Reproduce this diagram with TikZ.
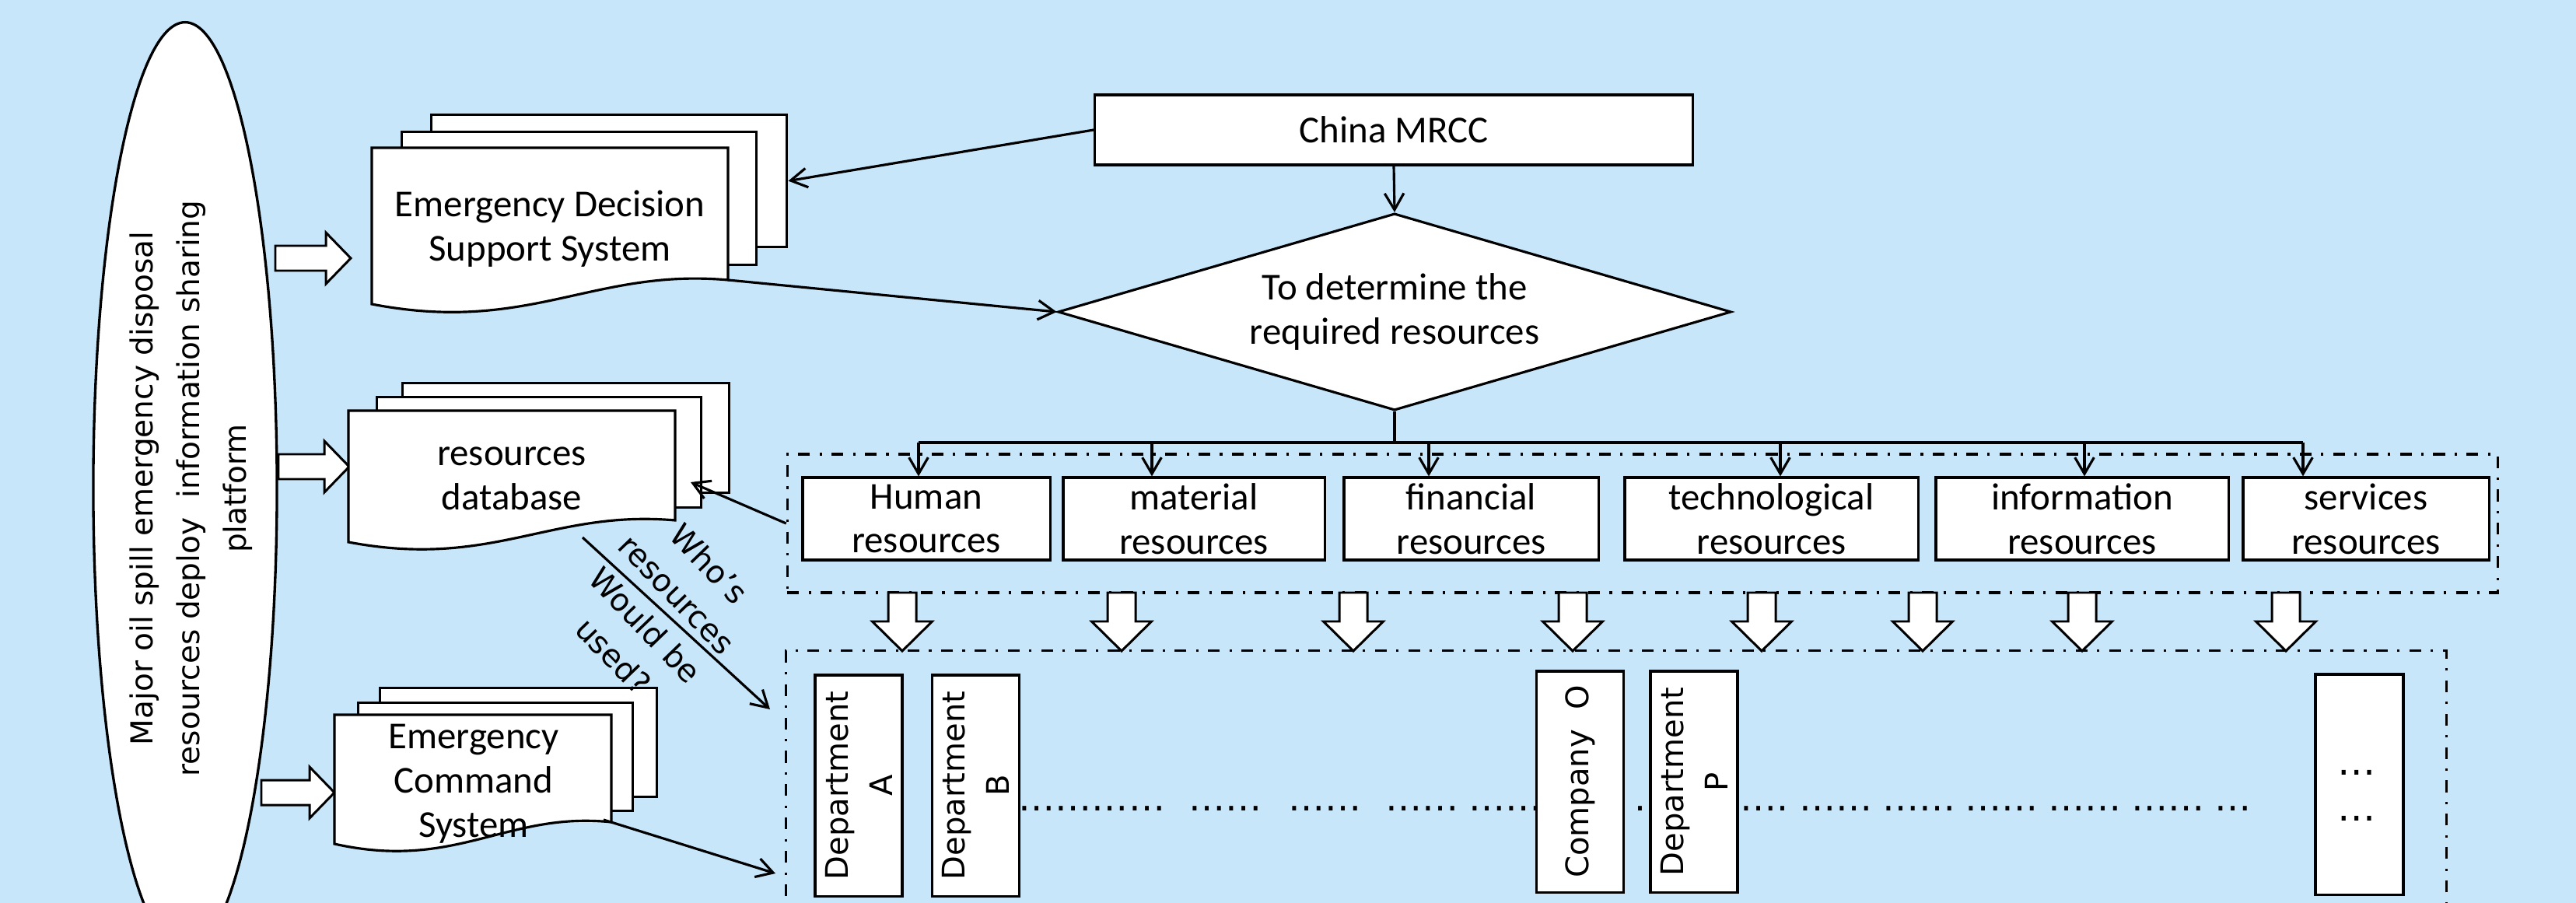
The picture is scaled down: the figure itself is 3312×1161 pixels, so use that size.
\documentclass[tikz,border=0pt]{standalone}
\usepackage{fontspec}
\setmainfont{Carlito}
\newfontfamily\dvfont{DejaVu Sans}
\usetikzlibrary{arrows.meta,shapes.geometric}
\definecolor{bgblue}{RGB}{199,230,250}
\newcommand\ds{\hspace{3.56pt}}
\newcommand\rarr[3]{\draw[blk] ({#1},{#3-16}) -- ({#2-32},{#3-16}) -- ({#2-32},{#3-33}) -- ({#2},{#3}) -- ({#2-32},{#3+33}) -- ({#2-32},{#3+16}) -- ({#1},{#3+16}) -- cycle;}
\newcommand\darr[1]{\draw[blk] ({#1-18},762) -- ({#1+18},762) -- ({#1+18},799) -- ({#1+38.5},799) -- ({#1},837) -- ({#1-38.5},799) -- ({#1-18},799) -- cycle;}
\begin{document}
\begin{tikzpicture}[x=0.01cm,y=-0.01cm,
 blk/.style={draw,fill=white,line width=0.85pt,line join=miter},
 conn/.style={line width=0.9pt,-{Straight Barb[length=6pt,width=7pt]}},
 plainln/.style={line width=0.9pt},
 box/.style={draw,fill=white,line width=0.9pt,inner sep=0pt,align=center,font=\fontsize{13.9pt}{16.2pt}\selectfont},
 txt/.style={inner sep=0pt,align=center,font=\fontsize{13.9pt}{16.2pt}\selectfont},
 docback/.style={draw,fill=white,line width=0.9pt,inner sep=0pt,anchor=north west},
 vbox/.style={draw,fill=white,line width=0.9pt,inner sep=0pt,align=center,rotate=90,minimum width=2.84cm,minimum height=1.12cm,font=\dvfont\fontsize{11.4pt}{16.2pt}\selectfont},
 grp/.style={draw,line width=0.9pt,dash pattern=on 4.3pt off 3.5pt on 0.9pt off 3.5pt,inner sep=0pt},
 resbox/.style={box,minimum height=1.06cm},
 dotline/.style={inner sep=0pt,anchor=base west,font=\dvfont\fontsize{13.4pt}{16pt}\selectfont}
 ]
\useasboundingbox (0,0) rectangle (3312,1161);
\clip (0,0) rectangle (3312,1161);
\fill[bgblue] (0,0) rectangle (3312,1161);

% platform ellipse
\node[ellipse,draw,fill=white,line width=0.95pt,minimum width=2.36cm,minimum height=11.96cm,inner sep=0pt] (plat) at (238,627) {};
\node[rotate=90,inner sep=0pt,align=center,font=\dvfont\fontsize{11.1pt}{17.1pt}\selectfont] (platt) at (246,628) {Major oil spill emergency disposal\\resources deploy~ information sharing\\platform};

% block arrows to the documents
\rarr{354}{451}{332}
\rarr{358}{449}{600}
\rarr{336}{430}{1019}

% document stack 1
\node[docback,minimum width=4.57cm,minimum height=1.70cm] (d1c) at (553,146) {};
\node[docback,minimum width=4.56cm,minimum height=1.71cm] (d1b) at (515,168) {};
\draw[blk,line width=0.9pt] (478,190) -- (936,190) -- (936,360) .. controls (762,344.5) and (680,430) .. (478,391) -- cycle;
\node[txt] (d1) at (707,294) {Emergency Decision\\Support System};
\coordinate (d1br) at (936,360);

% document stack 2
\node[docback,minimum width=4.20cm,minimum height=1.41cm] (d2c) at (516,491) {};
\node[docback,minimum width=4.17cm,minimum height=1.42cm] (d2b) at (483,509) {};
\draw[blk,line width=0.9pt] (448,528) -- (868,528) -- (868,669) .. controls (708,655) and (633,732) .. (448,697) -- cycle;
\node[txt] (d2) at (658,615) {resources\\database};
\coordinate (d2in) at (888,620);

% document stack 3
\node[docback,minimum width=3.56cm,minimum height=1.40cm] (d3c) at (487,883) {};
\node[docback,minimum width=3.53cm,minimum height=1.39cm] (d3b) at (459,902) {};
\draw[blk,line width=0.9pt] (430,919) -- (786,919) -- (786,1057) .. controls (651,1043) and (587,1120) .. (430,1085) -- cycle;
\node[txt] (d3) at (609,1008) {Emergency\\Command\\System};
\coordinate (d3br) at (776,1054);

% MRCC and decision
\node[box,minimum width=7.68cm,minimum height=0.90cm] (mrcc) at (1792,167) {China MRCC};
\node[diamond,draw,fill=white,line width=0.9pt,shape aspect=3.42,minimum width=8.65cm,minimum height=2.53cm,inner sep=0pt,align=center,font=\fontsize{13.9pt}{16.2pt}\selectfont] (dia) at (1793,401) {To determine the\\required resources};

% groups
\node[grp,minimum width=21.98cm,minimum height=1.78cm] (g1) at (2112,673) {};
\node[grp,minimum width=21.34cm,minimum height=3.63cm] (g2) at (2078,1018.5) {};

% resource boxes
\node[resbox,minimum width=3.18cm] (hr) at (1191,667) {Human\\resources};
\node[resbox,minimum width=3.36cm] (mr) at (1535,667) {material\\resources};
\node[resbox,minimum width=3.27cm] (fr) at (1891.5,667) {financial\\resources};
\node[resbox,minimum width=3.77cm] (tr) at (2277.5,667) {technological\\resources};
\node[resbox,minimum width=3.76cm] (ir) at (2677,667) {information\\resources};
\node[resbox,minimum width=3.16cm] (sr) at (3042,667) {services\\resources};

% bus
\coordinate (k1) at (1181,569);
\coordinate (k2) at (1481,569);
\coordinate (k3) at (1837,569);
\coordinate (k4) at (2289,569);
\coordinate (k5) at (2680,569);
\coordinate (k6) at (2961,569);
\draw[plainln] (dia.south) -- (dia.south |- k1);
\draw[plainln] (k1) -- (k6);
\draw[conn] (k1) -- (k1 |- hr.north);
\draw[conn] (k2) -- (k2 |- mr.north);
\draw[conn] (k3) -- (k3 |- fr.north);
\draw[conn] (k4) -- (k4 |- tr.north);
\draw[conn] (k5) -- (k5 |- ir.north);
\draw[conn] (k6) -- (k6 |- sr.north);

% hollow down arrows
\foreach \xx in {1160,1442,1740,2022,2265,2472,2677,2939} {\darr{\xx}}

% organisations
\node[vbox] (da) at (1104,1010) {Department\\A};
\node[vbox] (db) at (1254.5,1010) {Department\\B};
\node[vbox] (co) at (2031.5,1005) {Company~ O};
\node[vbox] (dp) at (2178,1005) {Department\\P};
\node[draw,fill=white,line width=0.9pt,inner sep=0pt,minimum width=1.13cm,minimum height=2.83cm] (dz) at (3033.5,1008.5) {};
\node[inner sep=0pt,align=center,font=\dvfont\fontsize{14pt}{16.8pt}\selectfont] (dzt) at (3030,1023) {…\\…};

% dotted lines between the organisations
\node[dotline] (dl1) at (1309,1042) {…………\hspace{8.5pt}……\hspace{9.7pt}……\hspace{8.8pt}……\ds ……};
\node[dotline] (dl2) at (2100.5,1042) {.};
\node[dotline] (dl3) at (2237,1042) {….\hspace{3.84pt}……\ds ……\ds ……\ds ……\ds ……\ds …};

% connectors
\draw[conn] (mrcc.west) -- (d1c.east);
\draw[conn] (mrcc.south) -- (dia.north);
\draw[conn] (d1br) -- (dia.west);
\draw[conn] (g1.west) -- (d2in);
\coordinate (w0) at (749,691);
\coordinate (w1) at (990,912);
\draw[conn] (w0) -- node[pos=0.42,rotate=-46,inner sep=0pt,align=center,font=\dvfont\fontsize{11.4pt}{16.2pt}\selectfont] (wq) {Who’s\\resources\\Would be\\used?} (w1);
\coordinate (g2in) at (997,1123);
\draw[conn] (d3br) -- (g2in);
\end{tikzpicture}
\end{document}
